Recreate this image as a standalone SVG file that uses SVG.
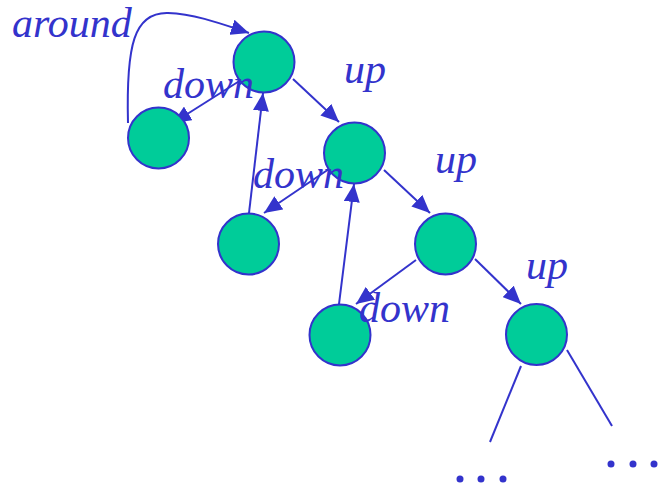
<svg xmlns="http://www.w3.org/2000/svg" width="658" height="488" viewBox="0 0 658 488">
  <style>
    .node { fill: #00CC99; stroke: #3333CC; stroke-width: 2; }
    .edge { fill: none; stroke: #3333CC; stroke-width: 2; }
    .lbl { font-family: 'Liberation Serif', 'Times New Roman', Times, serif; font-style: italic; font-size: 42px; fill: #3333CC; }
    .dot { fill: #3333CC; }
  </style>
  <defs>
    <marker id="arrow" markerUnits="userSpaceOnUse" markerWidth="20" markerHeight="16" refX="18" refY="8" orient="auto">
      <path d="M0,0 L18,8 L0,16 Z" fill="#3333CC"/>
    </marker>
  </defs>
  <rect width="658" height="488" fill="#FFFFFF"/>

  <!-- connectors -->
  <g id="connectors">
    <path class="edge" marker-end="url(#arrow)" d="M128,123 C126,45 134,12 168,13 C195,14 222,24 249,33"/>
    <line class="edge" marker-end="url(#arrow)" x1="241" y1="80" x2="173" y2="123"/>
    <line class="edge" marker-end="url(#arrow)" x1="293" y1="79" x2="339" y2="122"/>
    <line class="edge" marker-end="url(#arrow)" x1="249" y1="213" x2="263" y2="93"/>
    <line class="edge" marker-end="url(#arrow)" x1="329" y1="169" x2="264" y2="213"/>
    <line class="edge" marker-end="url(#arrow)" x1="384" y1="170" x2="430" y2="213"/>
    <line class="edge" marker-end="url(#arrow)" x1="339" y1="304" x2="354" y2="184"/>
    <line class="edge" marker-end="url(#arrow)" x1="416" y1="260" x2="356" y2="304"/>
    <line class="edge" marker-end="url(#arrow)" x1="475" y1="259" x2="521" y2="304"/>
    <line class="edge" x1="521" y1="366" x2="490" y2="442"/>
    <line class="edge" x1="567" y1="350" x2="612" y2="426"/>
  </g>

  <!-- tree nodes -->
  <g id="n1"><circle class="node" cx="264" cy="62" r="30.5"/></g>
  <g id="n2"><circle class="node" cx="158.5" cy="138" r="30.5"/></g>
  <g id="n3"><circle class="node" cx="354.5" cy="153" r="30.5"/></g>
  <g id="n4"><circle class="node" cx="248.5" cy="244" r="30.5"/></g>
  <g id="n5"><circle class="node" cx="445.5" cy="244" r="30.5"/></g>
  <g id="n6"><circle class="node" cx="340" cy="335" r="30.5"/></g>
  <g id="n7"><circle class="node" cx="536.5" cy="334.5" r="30.5"/></g>

  <!-- continuation dots -->
  <g id="more-left">
    <circle class="dot" cx="460" cy="479" r="3.5"/>
    <circle class="dot" cx="481" cy="479" r="3.5"/>
    <circle class="dot" cx="503" cy="479" r="3.5"/>
  </g>
  <g id="more-right">
    <circle class="dot" cx="611" cy="464" r="3.5"/>
    <circle class="dot" cx="633" cy="464" r="3.5"/>
    <circle class="dot" cx="654" cy="464" r="3.5"/>
  </g>

  <!-- labels -->
  <g id="labels">
    <text class="lbl" x="12" y="37">around</text>
    <text class="lbl" x="163" y="98">down</text>
    <text class="lbl" x="344" y="83">up</text>
    <text class="lbl" x="253" y="188">down</text>
    <text class="lbl" x="435" y="173">up</text>
    <text class="lbl" x="359" y="322">down</text>
    <text class="lbl" x="526" y="279">up</text>
  </g>
</svg>
